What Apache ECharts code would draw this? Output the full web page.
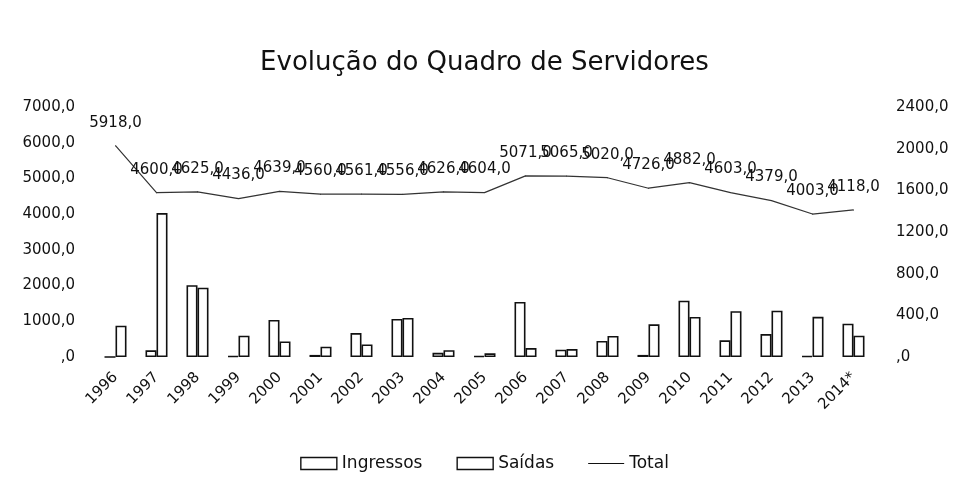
<!DOCTYPE html>
<html>
<head>
<meta charset="utf-8">
<script src="https://cdn.jsdelivr.net/npm/echarts@6/dist/echarts.min.js"></script>
<style>
  html, body { margin: 0; padding: 0; background: #fff; }
  #chart { width: 969px; height: 497px; }
</style>
</head>
<body>
<div id="chart"></div>
<script>
// Anos da série
const years = ['1996', '1997', '1998', '1999', '2000', '2001', '2002', '2003', '2004', '2005',
               '2006', '2007', '2008', '2009', '2010', '2011', '2012', '2013', '2014*'];

// Entradas e saídas de servidores por ano (eixo secundário)
const ingressos = [0, 64, 690, 10, 355, 20, 230, 365, 40, 10, 528, 70, 154, 20, 540, 160, 220, 10, 320];
const saidas    = [300, 1382, 665, 205, 150, 99, 120, 375, 65, 35, 86, 76, 202, 314, 384, 439, 444, 386, 205];

// Quadro total de servidores (eixo principal)
const total = [5918, 4600, 4625, 4436, 4639, 4560, 4561, 4556, 4626, 4604,
               5071, 5065, 5020, 4726, 4882, 4603, 4379, 4003, 4118];

// Limites dos eixos
const leftMax = 7000, leftStep = 1000;
const rightMax = 2400, rightStep = 400;

const FONT = 'DejaVu Sans';
const INK = '#111';

// Formato numérico pt-BR com uma casa: 0 -> ",0", 5918 -> "5918,0"
function fmt(v) {
  if (v === 0) return ',0';
  return v.toFixed(1).replace('.', ',');
}

const chart = echarts.init(document.getElementById('chart'));

const barStyle = { color: '#fff', borderColor: INK, borderWidth: 1.6 };

chart.setOption({
  backgroundColor: '#ffffff',
  animation: false,
  textStyle: { fontFamily: FONT, color: INK },
  title: {
    text: 'Evolução do Quadro de Servidores',
    left: 'center',
    top: 45,
    textStyle: { fontFamily: FONT, fontSize: 26, fontWeight: 'normal', color: INK }
  },
  legend: {
    bottom: 20,
    left: 'center',
    itemGap: 34,
    textStyle: { fontFamily: FONT, fontSize: 17, color: INK },
    data: [
      { name: 'Ingressos', icon: 'rect', itemStyle: { color: '#fff', borderColor: INK, borderWidth: 1.4 } },
      { name: 'Saídas', icon: 'rect', itemStyle: { color: '#fff', borderColor: INK, borderWidth: 1.4 } },
      { name: 'Total', icon: 'path://M0,5 L40,5 L40,6 L0,6 Z', itemStyle: { color: INK, borderWidth: 0 } }
    ],
    itemWidth: 36,
    itemHeight: 12
  },
  grid: { left: 95, right: 95, top: 107, bottom: 140 },
  xAxis: {
    type: 'category',
    data: years,
    axisLine: { show: false },
    axisTick: { show: false },
    axisLabel: {
      rotate: 45,
      interval: 0,
      margin: 18,
      fontFamily: FONT,
      fontSize: 15,
      color: INK
    }
  },
  yAxis: [
    {
      type: 'value',
      min: 0, max: leftMax, interval: leftStep,
      splitLine: { show: false },
      axisLine: { show: false },
      axisTick: { show: false },
      axisLabel: { formatter: fmt, fontFamily: FONT, fontSize: 15, color: INK, margin: 20 }
    },
    {
      type: 'value',
      min: 0, max: rightMax, interval: rightStep,
      splitLine: { show: false },
      axisLine: { show: false },
      axisTick: { show: false },
      axisLabel: { formatter: fmt, fontFamily: FONT, fontSize: 15, color: INK, margin: 22 }
    }
  ],
  series: [
    {
      name: 'Ingressos',
      type: 'bar',
      yAxisIndex: 1,
      data: ingressos,
      barWidth: 11,
      barGap: '0%',
      itemStyle: barStyle
    },
    {
      name: 'Saídas',
      type: 'bar',
      yAxisIndex: 1,
      data: saidas,
      barWidth: 11,
      barGap: '0%',
      itemStyle: barStyle
    },
    {
      name: 'Total',
      type: 'line',
      yAxisIndex: 0,
      data: total,
      symbol: 'circle',
      symbolSize: 1,
      showSymbol: true,
      itemStyle: { color: '#333' },
      lineStyle: { color: '#333', width: 1.2 },
      label: {
        show: true,
        position: 'top',
        distance: 15,
        formatter: p => fmt(p.value),
        fontFamily: FONT,
        fontSize: 15,
        color: INK
      },
      labelLayout: { hideOverlap: false },
      z: 5
    }
  ]
});
</script>
</body>
</html>
